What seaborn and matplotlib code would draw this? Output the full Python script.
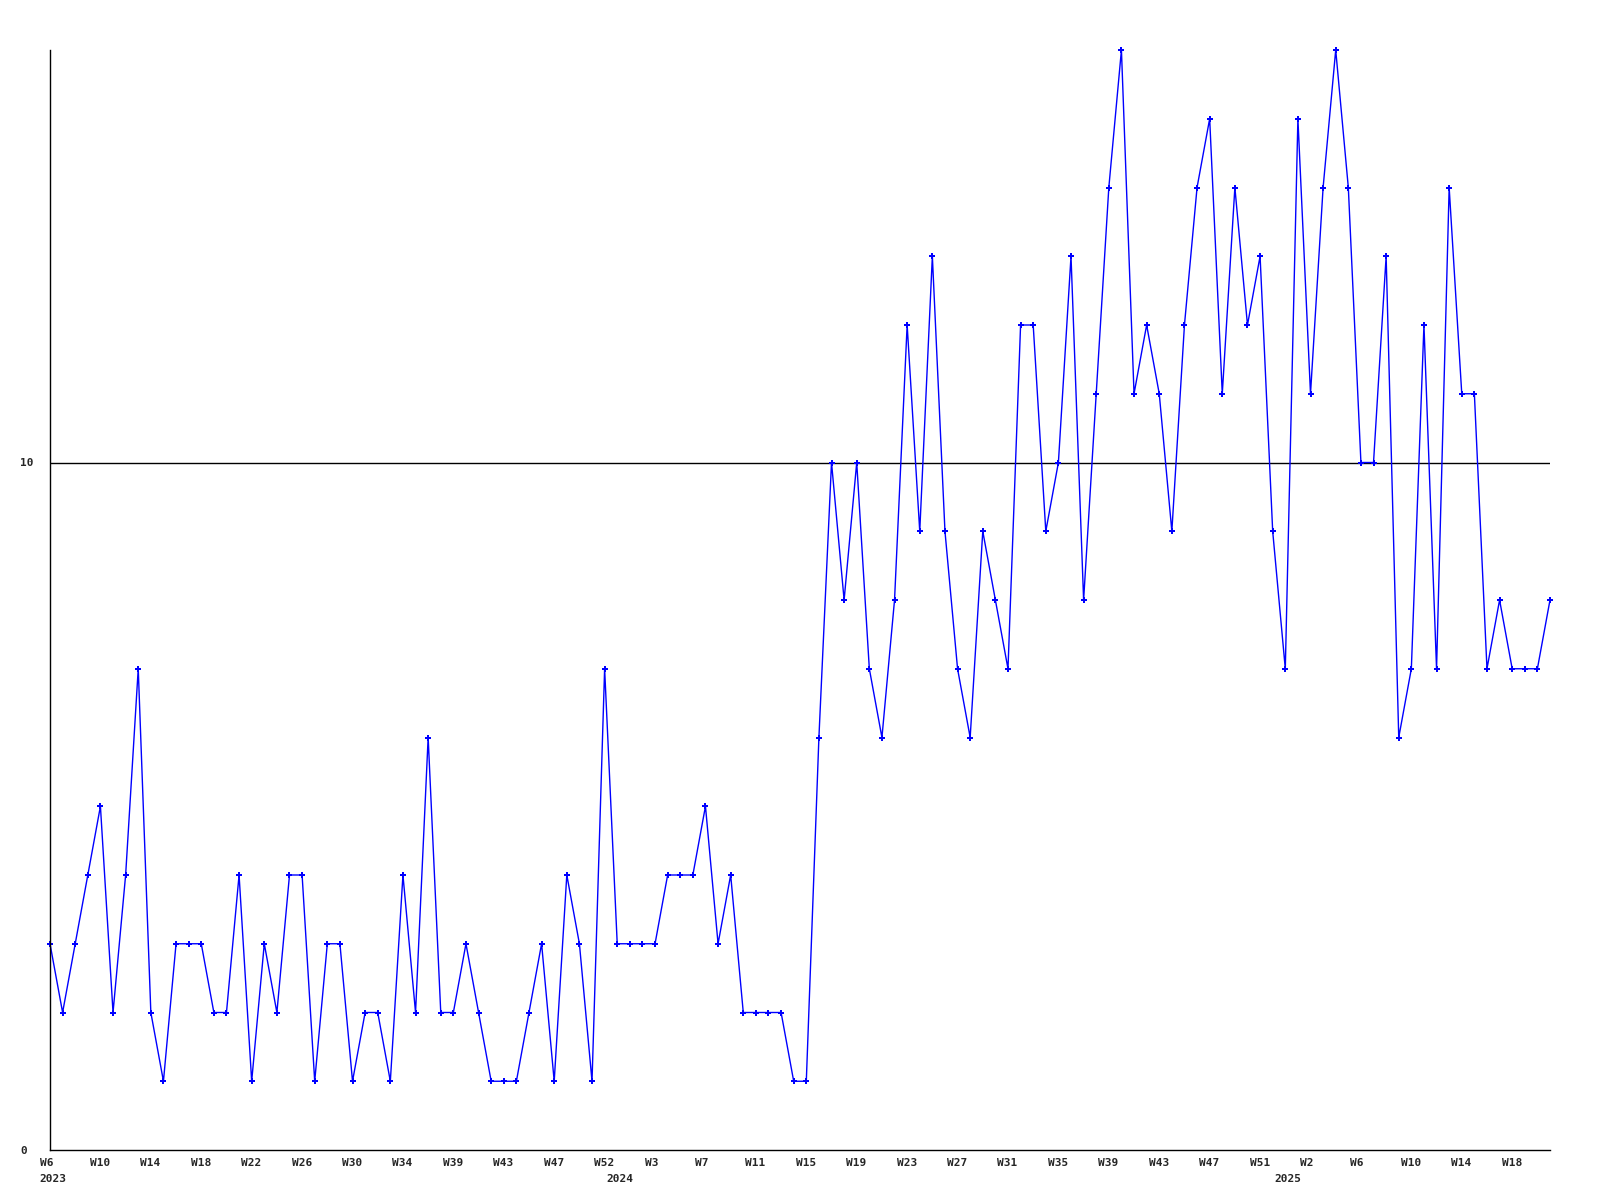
import matplotlib
matplotlib.use('Agg')
import matplotlib.pyplot as plt
import matplotlib.transforms as mtransforms
import pandas as pd
import seaborn as sns

#%%
# valores semanales (una semana por punto)
valores = [3, 2, 3, 4, 5, 2, 4, 7, 2, 1,
           3, 3, 3, 2, 2, 4, 1, 3, 2, 4,
           4, 1, 3, 3, 1, 2, 2, 1, 4, 2,
           6, 2, 2, 3, 2, 1, 1, 1, 2, 3,
           1, 4, 3, 1, 7, 3, 3, 3, 3, 4,
           4, 4, 5, 3, 4, 2, 2, 2, 2, 1,
           1, 6, 10, 8, 10, 7, 6, 8, 12, 9,
           13, 9, 7, 6, 9, 8, 7, 12, 12, 9,
           10, 13, 8, 11, 14, 16, 11, 12, 11, 9,
           12, 14, 15, 11, 14, 12, 13, 9, 7, 15,
           11, 14, 16, 14, 10, 10, 13, 6, 7, 12,
           7, 14, 11, 11, 7, 8, 7, 7, 7, 8]

etiquetas_semana = ['W6', 'W10', 'W14', 'W18', 'W22', 'W26', 'W30', 'W34', 'W39', 'W43',
                    'W47', 'W52', 'W3', 'W7', 'W11', 'W15', 'W19', 'W23', 'W27', 'W31',
                    'W35', 'W39', 'W43', 'W47', 'W51', 'W2', 'W6', 'W10', 'W14', 'W18']
anios = ['2023', '2024', '2025']
pos_anios = [0, 45, 98]   # semana en que empieza cada año

df = pd.DataFrame({'semana': range(len(valores)), 'valor': valores})

#%%
sns.set_style('white')
plt.rcParams['font.family'] = ['DejaVu Sans Mono']

fig = plt.figure(figsize=(16, 12), dpi=100)
ax = fig.add_axes([50/1600, 50/1200, 1500/1600, 1100/1200])

sns.lineplot(data=df, x='semana', y='valor', ax=ax, color='#0000ff', linewidth=1,
             marker='P', markersize=4, markeredgewidth=0, clip_on=False)

ax.axhline(10, color='black', linewidth=1, zorder=1)

ax.set_xlim(0, len(valores) - 1)
ax.set_ylim(0, 16)

for lado in ['top', 'right']:
    ax.spines[lado].set_visible(False)
for lado in ['left', 'bottom']:
    ax.spines[lado].set_color('black')
    ax.spines[lado].set_linewidth(1)

# eje y: solo 0 y 10
ax.set_yticks([0, 10])
ax.set_yticklabels(['0', '10'], ha='left', fontsize=8, fontweight='bold')
ax.tick_params(axis='y', length=0, pad=21.6)

# eje x: cada 4 semanas, texto alineado a la izquierda
ax.set_xticks(range(0, len(valores), 4))
ax.set_xticklabels(etiquetas_semana, ha='left', fontsize=8, fontweight='bold')
ax.tick_params(axis='x', length=0, pad=6)
desplaza = mtransforms.ScaledTranslation(-10.5/100, 0, fig.dpi_scale_trans)
for lab in ax.get_xticklabels():
    lab.set_transform(lab.get_transform() + desplaza)

trans = mtransforms.blended_transform_factory(ax.transData, fig.transFigure)
for anio, pos in zip(anios, pos_anios):
    ax.text(pos, 1 - 1179/1200, anio, transform=trans + desplaza, ha='left', va='center',
            fontsize=8, fontweight='bold')

ax.set_xlabel('')
ax.set_ylabel('')

fig.savefig('out.png', dpi=100, facecolor='white')
